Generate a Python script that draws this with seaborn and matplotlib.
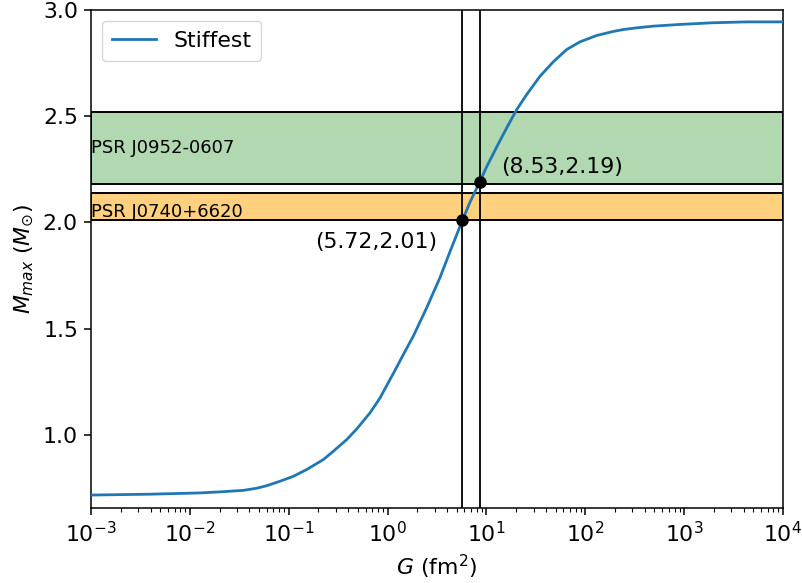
import matplotlib
matplotlib.use("Agg")
import matplotlib.pyplot as plt
from matplotlib.ticker import NullFormatter
import pandas as pd
import seaborn as sns

# Maximum mass vs. coupling G for the stiffest EoS
G_vals = [1e-3, 0.00395, 0.01267, 0.0202, 0.0347, 0.0474, 0.0599, 0.0816,
          0.1112, 0.152, 0.2239, 0.2825, 0.3859, 0.4872, 0.6642, 0.8381,
          1.058, 1.143, 1.442, 1.820, 2.487, 3.390, 4.279, 5.72, 6.82, 8.53,
          10.06, 12.70, 16.03, 20.24, 25.55, 34.82, 47.47, 64.86, 88.4, 130.4,
          192.0, 242.3, 331.0, 487.5, 907.8, 1972.0, 4295.0, 1e4]
M_max = [0.716, 0.720, 0.726, 0.731, 0.738, 0.748, 0.760, 0.781,
         0.804, 0.836, 0.883, 0.922, 0.977, 1.027, 1.103, 1.173,
         1.260, 1.288, 1.377, 1.464, 1.598, 1.740, 1.862, 2.01, 2.095, 2.19,
         2.262, 2.355, 2.445, 2.531, 2.602, 2.688, 2.756, 2.814, 2.850, 2.880,
         2.899, 2.908, 2.916, 2.924, 2.932, 2.940, 2.944, 2.944]

# Observational mass constraints (lower, upper)
psr_names = ["PSR J0952-0607", "PSR J0740+6620"]
psr_low = [2.18, 2.01]
psr_high = [2.52, 2.14]
psr_label_y = [2.35, 2.05]
psr_colors = [(0.0, 0.502, 0.0, 0.3), (1.0, 0.647, 0.0, 0.5)]

# Crossing points of the curve with the lower bounds
cross_G = [5.72, 8.53]
cross_M = [2.01, 2.19]
cross_offsets = [(-25, -22), (22, 15)]
cross_ha = ["right", "left"]

x_ticks = [1e-3, 1e-2, 1e-1, 1e0, 1e1, 1e2, 1e3, 1e4]
y_ticks = [1.0, 1.5, 2.0, 2.5, 3.0]

FS = 15.8

plt.rcParams.update({
    "axes.linewidth": 1.1,
    "xtick.major.size": 4.7, "ytick.major.size": 4.7,
    "xtick.major.width": 1.1, "ytick.major.width": 1.1,
    "xtick.minor.size": 2.7, "xtick.minor.width": 0.8,
    "xtick.major.pad": 4.7, "ytick.major.pad": 4.7,
})

df = pd.DataFrame({"G": G_vals, "M": M_max})

fig = plt.figure(figsize=(8.03, 5.83), dpi=100)
ax = fig.add_axes([91 / 803, 1 - 508 / 583, (783 - 91) / 803, (508 - 10) / 583])

for name, lo, hi, ly, col in zip(psr_names, psr_low, psr_high, psr_label_y, psr_colors):
    ax.axhspan(lo, hi, facecolor=col, edgecolor="black", linewidth=1.4, zorder=1)
    ax.text(1.0e-3, ly, name, fontsize=13, ha="left", va="center", zorder=3)

for g in cross_G:
    ax.axvline(g, color="black", linewidth=1.3, zorder=2)

sns.lineplot(data=df, x="G", y="M", ax=ax, color="#1f77b4", linewidth=2.0,
             label="Stiffest", zorder=4)

ax.plot(cross_G, cross_M, "o", color="black", markersize=8, zorder=5)
for g, m, off, ha in zip(cross_G, cross_M, cross_offsets, cross_ha):
    ax.annotate(f"({g:.2f},{m:.2f})", (g, m), xytext=off, textcoords="offset pixels",
                ha=ha, va="center", fontsize=FS)

ax.set_xscale("log")
ax.set_xticks(x_ticks)
ax.set_xlim(1e-3, 1e4)
ax.set_ylim(0.655, 3.0)
ax.set_yticks(y_ticks)
ax.xaxis.set_minor_formatter(NullFormatter())
ax.tick_params(axis="both", which="major", labelsize=FS)
ax.set_xlabel("$G$ (fm$^2$)", fontsize=FS, labelpad=5)
ax.set_ylabel("$M_{max}$ ($M_{\\odot}$)", fontsize=FS, labelpad=5)
ax.legend(loc="upper left", fontsize=FS, handlelength=2.0, borderpad=0.45)

fig.savefig("out.png", dpi=100)
